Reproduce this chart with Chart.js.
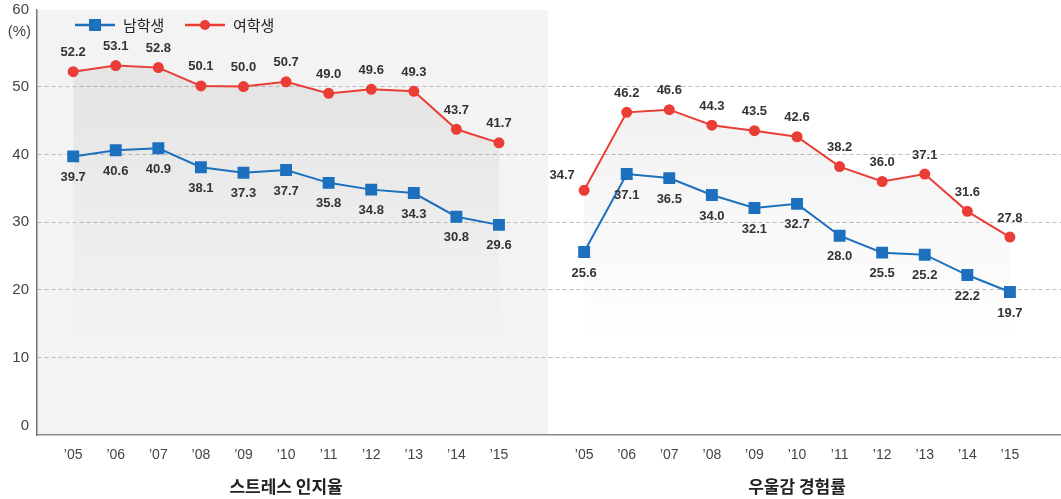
<!DOCTYPE html>
<html><head><meta charset="utf-8">
<script src="https://cdn.jsdelivr.net/npm/chart.js@4.4.1/dist/chart.umd.min.js"></script>
<style>html,body{margin:0;padding:0;background:#fff;overflow:hidden}canvas{display:block}</style>
</head><body><canvas id="c" width="1061" height="499"></canvas>
<script>
const years = ["’05","’06","’07","’08","’09","’10","’11","’12","’13","’14","’15"];
const groupNames = ["스트레스 인지율","우울감 경험률"];
const seriesNames = ["남학생","여학생"];
const maleStress = [39.7,40.6,40.9,38.1,37.3,37.7,35.8,34.8,34.3,30.8,29.6];
const femaleStress = [52.2,53.1,52.8,50.1,50.0,50.7,49.0,49.6,49.3,43.7,41.7];
const maleDepress = [25.6,37.1,36.5,34.0,32.1,32.7,28.0,25.5,25.2,22.2,19.7];
const femaleDepress = [34.7,46.2,46.6,44.3,43.5,42.6,38.2,36.0,37.1,31.6,27.8];
const yTicks = [0,10,20,30,40,50,60];
const yUnit = "(%)";

const BLUE = '#1c70bd', RED = '#ea3d35';
const gap = years.length; // index of blank slot between panels
function build(a, b){
  const out = [];
  a.forEach((v,i)=>out.push({x:i,y:v}));
  out.push({x:gap,y:null});
  b.forEach((v,i)=>out.push({x:gap+1+i,y:v}));
  return out;
}
const tickLabelAt = x => x < gap ? years[x] : (x > gap ? years[x-gap-1] : '');
const FONT = "'Liberation Sans', Arial, sans-serif";
const KFONT = "'Noto Sans CJK KR', 'Liberation Sans', sans-serif";

function shade(ctx){
  const c = ctx.chart;
  if (!c.chartArea) return 'rgba(0,0,0,0)';
  const y = c.scales.y;
  const g = c.ctx.createLinearGradient(0, y.getPixelForValue(50), 0, y.getPixelForValue(12));
  g.addColorStop(0, 'rgba(0,0,0,0.06)');
  g.addColorStop(1, 'rgba(0,0,0,0)');
  return g;
}

const deco = {
  id:'deco',
  beforeDraw(chart){
    const {ctx, chartArea:a, scales:{x,y}} = chart;
    ctx.save();
    const xr = x.getPixelForValue(gap + 0.16);
    ctx.fillStyle = '#f3f3f3';
    ctx.fillRect(a.left, a.top, xr - a.left, a.bottom - a.top);
    ctx.restore();
  },
  afterDraw(chart){
    const {ctx, scales:{x,y}} = chart;
    ctx.save();
    ctx.font = "15px " + FONT;
    ctx.fillStyle = '#444';
    ctx.textAlign = 'right';
    ctx.textBaseline = 'middle';
    const p60 = y.getPixelForValue(60);
    ctx.fillText('60', 29, p60 - 9);
    ctx.fillText(yUnit, 31, p60 + 13);
    ctx.restore();
  },
  afterDatasetsDraw(chart){
    const {ctx, scales:{x,y}} = chart;
    ctx.save();
    ctx.font = "bold 13px " + FONT;
    ctx.fillStyle = '#333';
    ctx.textAlign = 'center';
    ctx.textBaseline = 'middle';
    chart.data.datasets.forEach((ds, di) => {
      ds.data.forEach(p => {
        if (p.y == null) return;
        let px = x.getPixelForValue(p.x), py = y.getPixelForValue(p.y);
        if (di === 0) { py += 21; }
        else {
          if (p.x === gap + 1) { px -= 22; py -= 15; }
          else py -= 19;
        }
        ctx.fillText(p.y.toFixed(1), px, py);
      });
    });
    // group titles
    ctx.font = "bold 17px " + KFONT;
    ctx.fillStyle = '#222';
    ctx.fillText(groupNames[0], x.getPixelForValue(5), 487);
    ctx.fillText(groupNames[1], x.getPixelForValue(gap+6), 487);
    // legend
    const items = [[75, BLUE, 'rect'], [185, RED, 'circle']];
    items.forEach((it, i) => {
      const [lx, col, shape] = it, ly = 25;
      ctx.strokeStyle = col; ctx.lineWidth = 2.5;
      ctx.beginPath(); ctx.moveTo(lx, ly); ctx.lineTo(lx + 40, ly); ctx.stroke();
      ctx.fillStyle = col;
      if (shape === 'rect') ctx.fillRect(lx + 14, ly - 6, 12, 12);
      else { ctx.beginPath(); ctx.arc(lx + 20, ly, 5, 0, Math.PI*2); ctx.fill(); }
      ctx.fillStyle = '#222';
      ctx.font = "15px " + KFONT;
      ctx.textAlign = 'left';
      ctx.fillText(seriesNames[i], lx + 48, ly);
    });
    ctx.restore();
  }
};

new Chart(document.getElementById('c'), {
  type: 'line',
  data: {
    datasets: [
      { label: seriesNames[0], data: build(maleStress, maleDepress), borderColor: BLUE, backgroundColor: BLUE,
        borderWidth: 2, pointStyle: 'rect', pointRadius: 7, pointHoverRadius: 7, spanGaps: false, tension: 0 },
      { label: seriesNames[1], data: build(femaleStress, femaleDepress), borderColor: RED, backgroundColor: RED,
        borderWidth: 2, pointStyle: 'circle', pointRadius: 4.5, pointHoverRadius: 4.5, spanGaps: false, tension: 0,
        fill: {target: 'origin', above: shade, below: 'rgba(0,0,0,0)'} }
    ]
  },
  options: {
    responsive: false, animation: false,
    layout: { autoPadding: false, padding: {top: 10, left: 0, right: 0, bottom: 0} },
    plugins: { legend: { display: false }, tooltip: { enabled: false } },
    scales: {
      x: {
        type: 'linear', min: -0.85, max: 2*gap + 1.2,
        afterBuildTicks(s){ s.ticks = []; for (let i = 0; i <= 2*gap; i++) if (i !== gap) s.ticks.push({value:i}); },
        afterFit(s){ s.height = 64; s.paddingLeft = 0; s.paddingRight = 0; },
        grid: { display: false, drawTicks: false },
        border: { display: true, color: '#8a8a8a', width: 1.5 },
        ticks: { autoSkip: false, maxRotation: 0, padding: 12, color: '#444', font: { size: 14, family: FONT },
          callback: v => tickLabelAt(v) }
      },
      y: {
        min: -1.4, max: 61.3,
        afterBuildTicks(s){ s.ticks = yTicks.map(v => ({value:v})); },
        afterFit(s){ s.width = 37; s.paddingTop = 0; s.paddingBottom = 0; },
        grid: { drawTicks: false, color: c => (c.tick && c.tick.value > 0 && c.tick.value < 60) ? '#bdbdbd' : 'rgba(0,0,0,0)' , lineWidth: 1},
        border: { display: true, color: '#777', width: 1.5, dash: [4,3] },
        ticks: { padding: 8, color: '#444', font: { size: 15, family: FONT },
          callback: v => v === 60 ? '' : String(v) }
      }
    }
  },
  plugins: [deco]
});
</script></body></html>
